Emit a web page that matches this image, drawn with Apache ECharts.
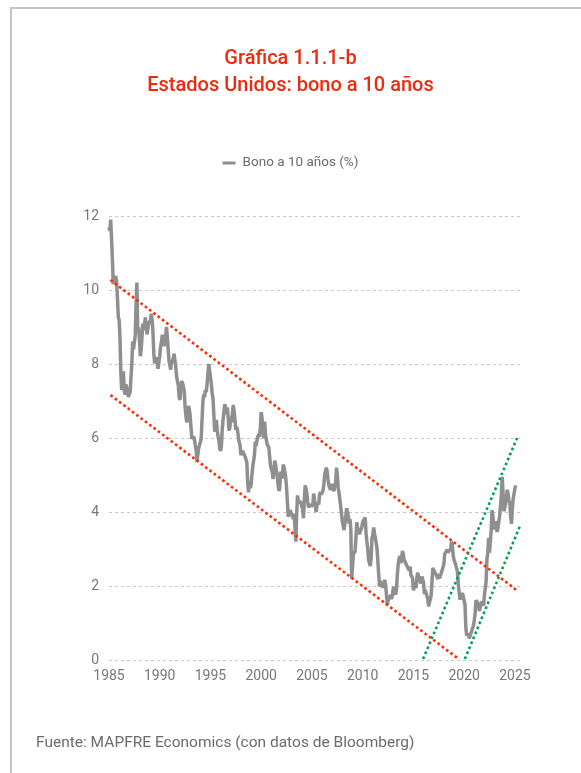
<!DOCTYPE html>
<html>
<head>
<meta charset="utf-8">
<script src="https://cdn.jsdelivr.net/npm/echarts@6/dist/echarts.min.js"></script>
<style>
  html, body { margin: 0; padding: 0; background: #fff; }
  #frame { position: absolute; left: 10px; top: 7px; width: 700px; height: 900px; border: 2px solid #c4c4c4; }
  #chart { position: absolute; left: 0; top: 0; width: 581px; height: 773px; }
</style>
</head>
<body>
<div id="frame"></div>
<div id="chart"></div>
<script>
// 10y US Treasury yield, monthly, starting Jan 1985
const yields1985_89 = [
  11.70, 11.60, 11.90, 11.40, 10.85, 10.16, 10.31, 10.33, 10.37, 10.24, 9.78, 9.26,
  9.19, 8.70, 7.78, 7.30, 7.71, 7.80, 7.30, 7.17, 7.45, 7.43, 7.25, 7.11,
  7.08, 7.25, 7.25, 8.02, 8.61, 8.40, 8.45, 8.76, 9.60, 10.20, 8.86, 8.99,
  8.67, 8.21, 8.37, 8.72, 9.09, 8.92, 9.06, 9.26, 8.98, 8.80, 8.96, 9.11,
  9.09, 9.17, 9.36, 9.18, 8.86, 8.28, 8.02, 8.11, 8.19, 8.01, 7.87, 7.84
];
const yields1990_99 = [
  8.21, 8.47, 8.59, 8.79, 8.76, 8.48, 8.47, 8.75, 9.00, 8.72, 8.39, 8.08,
  8.09, 7.85, 8.11, 8.04, 8.07, 8.28, 8.27, 7.90, 7.65, 7.53, 7.42, 7.09,
  7.03, 7.34, 7.54, 7.48, 7.39, 7.26, 6.84, 6.59, 6.42, 6.59, 6.87, 6.77,
  6.60, 6.26, 5.98, 5.97, 6.04, 5.96, 5.81, 5.68, 5.36, 5.33, 5.72, 5.77,
  5.75, 5.97, 6.48, 6.97, 7.18, 7.10, 7.30, 7.24, 7.46, 7.74, 8.00, 7.81,
  7.78, 7.47, 7.20, 7.06, 6.63, 6.17, 6.28, 6.49, 6.20, 6.04, 5.93, 5.71,
  5.65, 5.81, 6.27, 6.51, 6.74, 6.91, 6.87, 6.64, 6.83, 6.53, 6.20, 6.30,
  6.58, 6.42, 6.69, 6.89, 6.71, 6.49, 6.22, 6.30, 6.21, 6.03, 5.88, 5.81,
  5.54, 5.57, 5.65, 5.64, 5.65, 5.50, 5.46, 5.34, 4.81, 4.53, 4.83, 4.65,
  4.72, 5.00, 5.23, 5.18, 5.54, 5.90, 5.79, 5.94, 5.92, 6.11, 6.03, 6.28
];
const yields2000_09 = [
  6.70, 6.52, 6.26, 5.99, 6.44, 6.10, 6.05, 5.83, 5.80, 5.74, 5.72, 5.24,
  5.16, 5.10, 4.89, 5.14, 5.39, 5.28, 5.24, 4.97, 4.73, 4.57, 4.65, 5.09,
  5.04, 4.91, 5.28, 5.21, 5.16, 4.93, 4.65, 4.26, 3.87, 3.94, 4.05, 4.03,
  4.05, 3.90, 3.81, 3.96, 3.57, 3.20, 3.98, 4.45, 4.27, 4.29, 4.30, 4.27,
  4.15, 4.08, 3.83, 4.35, 4.72, 4.73, 4.50, 4.28, 4.13, 4.10, 4.19, 4.23,
  4.22, 4.17, 4.50, 4.34, 4.14, 4.00, 4.18, 4.26, 4.20, 4.46, 4.54, 4.47,
  4.42, 4.57, 4.72, 4.99, 5.11, 5.20, 5.09, 4.88, 4.72, 4.73, 4.60, 4.56,
  4.76, 4.72, 4.56, 4.69, 4.75, 5.20, 5.00, 4.67, 4.52, 4.53, 4.15, 4.10,
  3.74, 3.74, 3.51, 3.68, 3.88, 4.10, 4.01, 3.89, 3.69, 3.81, 3.53, 2.20,
  2.52, 2.87, 2.82, 2.93, 3.29, 3.72, 3.56, 3.59, 3.40, 3.39, 3.40, 3.59
];
const yields2010_19 = [
  3.73, 3.69, 3.73, 3.85, 3.42, 3.20, 3.01, 2.70, 2.65, 2.54, 2.76, 3.29,
  3.39, 3.58, 3.41, 3.46, 3.17, 3.00, 3.00, 2.30, 1.98, 2.15, 2.01, 1.98,
  1.97, 1.97, 2.17, 2.05, 1.80, 1.50, 1.45, 1.68, 1.72, 1.75, 1.65, 1.72,
  1.91, 1.98, 1.96, 1.76, 1.93, 2.30, 2.58, 2.74, 2.81, 2.62, 2.72, 2.95,
  2.86, 2.71, 2.72, 2.71, 2.56, 2.60, 2.54, 2.42, 2.53, 2.30, 2.33, 2.21,
  1.88, 1.98, 2.04, 1.94, 2.20, 2.36, 2.32, 2.17, 2.17, 2.07, 2.26, 2.24,
  2.09, 1.78, 1.89, 1.81, 1.81, 1.64, 1.45, 1.56, 1.63, 1.76, 2.14, 2.49,
  2.43, 2.42, 2.48, 2.30, 2.30, 2.19, 2.32, 2.21, 2.20, 2.36, 2.35, 2.40,
  2.58, 2.86, 2.84, 2.87, 2.98, 2.91, 2.89, 2.89, 3.00, 3.20, 3.12, 2.83,
  2.71, 2.68, 2.57, 2.53, 2.40, 2.07, 2.06, 1.63, 1.70, 1.71, 1.81, 1.86
];
const yields2020_25 = [
  1.76, 1.50, 0.87, 0.66, 0.67, 0.73, 0.58, 0.65, 0.68, 0.79, 0.87, 0.93,
  1.08, 1.26, 1.61, 1.64, 1.62, 1.52, 1.32, 1.28, 1.37, 1.58, 1.56, 1.47,
  1.76, 1.93, 2.13, 2.75, 2.90, 3.30, 2.90, 2.90, 3.52, 4.05, 3.89, 3.62,
  3.53, 3.75, 3.66, 3.46, 3.57, 3.75, 3.90, 4.17, 4.45, 4.95, 4.50, 4.02,
  4.06, 4.21, 4.21, 4.60, 4.48, 4.31, 4.25, 3.87, 3.68, 4.10, 4.36, 4.39,
  4.63, 4.72
];

// dotted trend channels [year, %]
const redUpper = [[1985.15, 10.27], [2025.3, 1.86]];
const redLower = [[1985.15, 7.16], [2019.3, 0.06]];
const greenLeft = [[2015.95, 0.03], [2025.3, 6.05]];
const greenRight = [[2020.07, 0.03], [2025.5, 3.62]];

const xTicks = [1985, 1990, 1995, 2000, 2005, 2010, 2015, 2020, 2025];

const allYields = [].concat(yields1985_89, yields1990_99, yields2000_09, yields2010_19, yields2020_25);
const bondData = allYields.map((v, i) => [1985 + i / 12, v]);

const chart = echarts.init(document.getElementById('chart'));

const fontFam = 'Roboto, "Noto Sans", sans-serif';
const dotted = (color) => ({ color: color, width: 2.6, type: [2.6, 2.8], cap: 'butt' });
const titleStyle = { color: '#ee2a0e', fontSize: 20, fontWeight: 500, fontFamily: fontFam };

const option = {
  backgroundColor: 'transparent',
  textStyle: { fontFamily: fontFam },
  title: [
    { text: 'Gráfica 1.1.1-b', left: 'center', top: 44, textStyle: titleStyle },
    { text: 'Estados Unidos: bono a 10 años', left: 'center', top: 71, textStyle: titleStyle }
  ],
  legend: {
    data: ['Bono a 10 años (%)'],
    top: 151,
    left: 'center',
    icon: 'rect',
    itemWidth: 13,
    itemHeight: 3,
    itemGap: 10,
    textStyle: { color: '#6b6b6b', fontSize: 13.5, padding: [0, 0, 0, 2] }
  },
  grid: { left: 109, right: 58, top: 216, bottom: 113, containLabel: false },
  xAxis: {
    type: 'value',
    min: 1985,
    max: 2025.8,
    interval: 5,
    axisLine: { show: false },
    axisTick: { show: false },
    splitLine: { show: false },
    axisLabel: {
      color: '#777',
      fontSize: 14,
      margin: 9,
      formatter: (v) => (xTicks.indexOf(v) >= 0 ? String(v) : '')
    }
  },
  yAxis: {
    type: 'value',
    min: 0,
    max: 12,
    interval: 2,
    axisLine: { show: false },
    axisTick: { show: false },
    axisLabel: { color: '#777', fontSize: 14, margin: 10 },
    splitLine: { lineStyle: { color: '#c8c8c8', type: [3, 3], width: 1 } }
  },
  series: [
    {
      name: 'Bono a 10 años (%)',
      type: 'line',
      data: bondData,
      symbol: 'none',
      lineStyle: { color: '#8f8f8f', width: 3.5 },
      itemStyle: { color: '#8f8f8f' },
      z: 2
    },
    { type: 'line', data: redUpper, symbol: 'none', lineStyle: dotted('#ff2a00'), silent: true, z: 3 },
    { type: 'line', data: redLower, symbol: 'none', lineStyle: dotted('#ff2a00'), silent: true, z: 3 },
    { type: 'line', data: greenLeft, symbol: 'none', lineStyle: dotted('#00a05a'), silent: true, z: 3 },
    { type: 'line', data: greenRight, symbol: 'none', lineStyle: dotted('#00a05a'), silent: true, z: 3 }
  ],
  graphic: [
    {
      type: 'text',
      left: 36,
      top: 735,
      style: {
        text: 'Fuente: MAPFRE Economics (con datos de Bloomberg)',
        fill: '#6b6b6b',
        fontSize: 15.5,
        fontFamily: fontFam
      }
    }
  ]
};

chart.setOption(option);
</script>
</body>
</html>
